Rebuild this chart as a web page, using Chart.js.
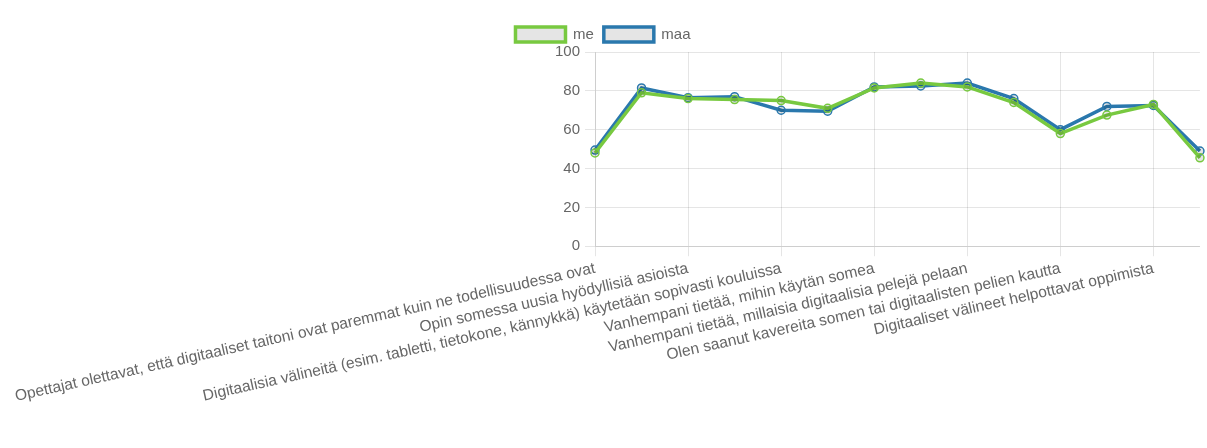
<!DOCTYPE html>
<html>
<head>
<meta charset="utf-8">
<script src="https://cdn.jsdelivr.net/npm/chart.js@4"></script>
<style>
  html, body { margin: 0; padding: 0; background: #fff; }
  #wrap { width: 1207px; height: 448px; position: relative; }
</style>
</head>
<body>
<div id="wrap"><canvas id="c"></canvas></div>
<script>
const categories = [
  "Opettajat olettavat, että digitaaliset taitoni ovat paremmat kuin ne todellisuudessa ovat",
  "Osaan käyttää digitaalisia välineitä koulutehtävissä",
  "Opin somessa uusia hyödyllisiä asioista",
  "Koulussa opetetaan tarpeeksi digitaalisia taitoja",
  "Digitaalisia välineitä (esim. tabletti, tietokone, kännykkä) käytetään sopivasti kouluissa",
  "Opettajat osaavat käyttää digitaalisia välineitä",
  "Vanhempani tietää, mihin käytän somea",
  "Vanhempani on kiinnostunut siitä, mitä teen netissä",
  "Vanhempani tietää, millaisia digitaalisia pelejä pelaan",
  "Pelaan digitaalisia pelejä kavereiden kanssa",
  "Olen saanut kavereita somen tai digitaalisten pelien kautta",
  "Digitaaliset välineet tekevät oppimisesta mielekkäämpää",
  "Digitaaliset välineet helpottavat oppimista",
  "Haluaisin käyttää koulussa enemmän digitaalisia välineitä"
];
const seriesNames = ["me", "maa"];
const meValues  = [48, 79, 76, 75.5, 75, 71, 81.5, 84, 82, 74, 58, 67.5, 73, 45.5];
const maaValues = [49.5, 81.5, 76.5, 77, 70, 69.5, 82, 82.5, 84, 76, 60, 72, 72.5, 49];
const yTicks = [0, 20, 40, 60, 80, 100];

const FONT = "'Liberation Sans', Arial, Helvetica, sans-serif";
const GREEN = "#78c940";
const BLUE = "#2a78ad";
const GRID = "rgba(0,0,0,0.1)";

new Chart(document.getElementById("c"), {
  type: "line",
  data: {
    labels: categories,
    datasets: [
      {
        label: seriesNames[0],
        data: meValues,
        borderColor: GREEN,
        backgroundColor: "rgba(0,0,0,0.1)",
        borderWidth: 3.5,
        pointRadius: 4,
        pointBorderWidth: 1.5,
        tension: 0,
        fill: false
      },
      {
        label: seriesNames[1],
        data: maaValues,
        borderColor: BLUE,
        backgroundColor: "rgba(0,0,0,0.1)",
        borderWidth: 3.5,
        pointRadius: 4,
        pointBorderWidth: 1.5,
        tension: 0,
        fill: false
      }
    ]
  },
  options: {
    responsive: true,
    maintainAspectRatio: false,
    animation: false,
    layout: { padding: { top: 17, right: 7, bottom: 39, left: 6 } },
    plugins: {
      tooltip: { enabled: false },
      legend: {
        display: true,
        position: "top",
        labels: {
          color: "#666",
          font: { family: FONT, size: 15 },
          boxWidth: 50,
          boxHeight: 15,
          padding: 10
        }
      }
    },
    scales: {
      x: {
        grid: {
          color: (ctx) => (ctx.index % 2 === 0 ? GRID : "rgba(0,0,0,0)"),
          tickLength: 10
        },
        border: { color: GRID },
        ticks: {
          autoSkip: false,
          minRotation: 12.5,
          maxRotation: 12.5,
          color: "#666",
          font: { family: FONT, size: 15.6 },
          callback: function (v, i) { return i % 2 === 0 ? this.getLabelForValue(v) : ""; }
        }
      },
      y: {
        min: 0,
        max: 100,
        afterBuildTicks: (scale) => { scale.ticks = yTicks.map(v => ({ value: v })); },
        afterFit: (scale) => { scale.width = 589; },
        grid: { color: GRID, tickLength: 10 },
        border: { color: GRID },
        ticks: {
          color: "#666",
          font: { family: FONT, size: 15 },
          padding: 5
        }
      }
    }
  }
});
</script>
</body>
</html>
